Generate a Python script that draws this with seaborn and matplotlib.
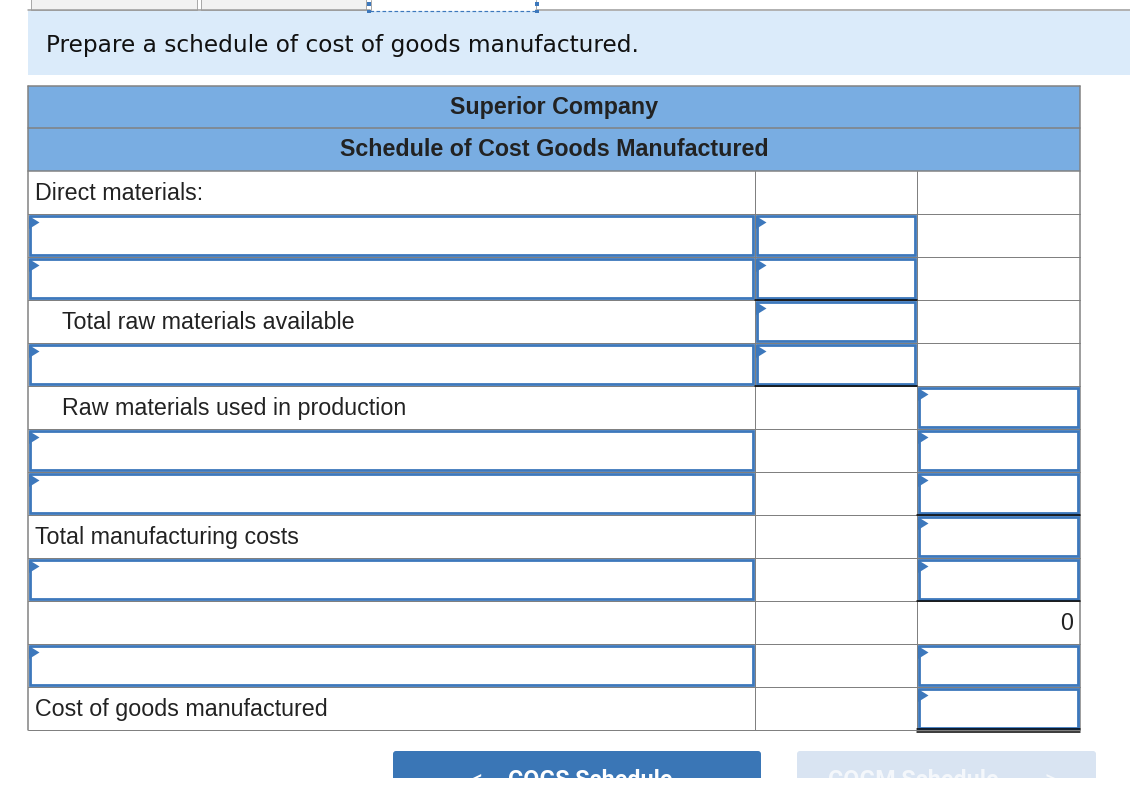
import matplotlib
matplotlib.use("Agg")
import matplotlib.pyplot as plt
from matplotlib.patches import Rectangle, Polygon, FancyBboxPatch
import seaborn as sns

sns.set_theme(style="white")
plt.rcParams["font.family"] = ["Liberation Sans", "DejaVu Sans"]

# ---------------- data ----------------
instruction = "Prepare a schedule of cost of goods manufactured."
header_lines = ["Superior Company", "Schedule of Cost Goods Manufactured"]
row_labels = ["Direct materials:", "", "", "Total raw materials available", "",
              "Raw materials used in production", "", "", "Total manufacturing costs",
              "", "", "", "Cost of goods manufactured"]
label_indent = [0, 0, 0, 1, 0, 1, 0, 0, 0, 0, 0, 0, 0]
col1_input = [0, 1, 1, 0, 1, 0, 1, 1, 0, 1, 0, 1, 0]
col2_input = [0, 1, 1, 1, 1, 0, 0, 0, 0, 0, 0, 0, 0]
col3_input = [0, 0, 0, 0, 0, 1, 1, 1, 1, 1, 0, 1, 1]
col3_values = ["", "", "", "", "", "", "", "", "", "", "0", "", ""]
col2_underline = [0, 0, 1, 0, 1, 0, 0, 0, 0, 0, 0, 0, 0]
col3_underline = [0, 0, 0, 0, 0, 0, 0, 1, 0, 1, 0, 0, 2]
buttons = ["COGS Schedule", "COGM Schedule"]

# ---------------- styles ----------------
W, H = 1130, 788
PT = 0.72  # points per pixel at dpi 100
GRID = "#808080"
BLUE = "#3d78bc"
HEAD = "#79ade2"
BANNER = "#dbebfa"
TXT = "#222222"
FS = 23.3 * PT

fig = plt.figure(figsize=(W / 100, H / 100), dpi=100)
ax = fig.add_axes([0, 0, 1, 1])
ax.set_xlim(0, W)
ax.set_ylim(H, 0)
ax.axis("off")

# ---- top tabs ----
for x0, x1 in [(31, 197), (201, 366)]:
    ax.add_patch(Rectangle((x0, -2), x1 - x0, 11.5, facecolor="#f2f2f2",
                           edgecolor="#aaaaaa", lw=1 * PT))
ax.plot([28, 370], [9.5, 9.5], color="#999999", lw=1.5 * PT)
ax.plot([536, W], [9.5, 9.5], color="#999999", lw=1.5 * PT)
ax.plot([370.5, 370.5], [0, 10], color="#aaaaaa", lw=1 * PT)
ax.plot([535.5, 535.5], [0, 10], color="#aaaaaa", lw=1 * PT)
ax.plot([370, 536], [11, 11], color=BLUE, lw=1.2 * PT, ls=(0, (3, 2)))
for sx in (367, 535):
    for sy in (2, 9.5):
        ax.add_patch(Rectangle((sx, sy), 3.5, 3.5, facecolor=BLUE, edgecolor="none", zorder=5))

# ---- instruction banner ----
ax.add_patch(Rectangle((28, 10.5), W - 28, 64.5, facecolor=BANNER, edgecolor="none"))
ax.text(46, 52, instruction, fontsize=23.2 * PT, color="#111111",
        family=["DejaVu Sans"], va="baseline", ha="left")

# ---- table geometry ----
XL, X1, X2, XR = 28, 755, 917, 1080
HT = 86
HROW = [86, 128, 171]
RH = 43
n = len(row_labels)
tops = [171 + RH * i for i in range(n)]
bottom = tops[-1] + RH

# header
ax.add_patch(Rectangle((XL, HT), XR - XL, 171 - HT, facecolor=HEAD, edgecolor="none"))
for y in HROW:
    ax.plot([XL, XR], [y, y], color=GRID, lw=1.5 * PT)
for i, t in enumerate(header_lines):
    ax.text((XL + XR) / 2, HROW[i] + 28, t, fontsize=FS, fontweight="bold",
            color=TXT, ha="center", va="baseline")

# grid
for t in tops[1:] + [bottom]:
    ax.plot([XL, XR], [t, t], color=GRID, lw=1 * PT)
for x in (XL, XR):
    ax.plot([x, x], [HT, bottom], color=GRID, lw=1.5 * PT)
for x in (X1, X2):
    ax.plot([x, x], [171, bottom], color=GRID, lw=1 * PT)


def input_box(x0, x1, top):
    lw = 2.8
    ax.add_patch(Rectangle((x0 + 1 + lw / 2, top + 1 + lw / 2),
                           (x1 - x0) - 2 - lw, RH - 2 - lw,
                           facecolor="white", edgecolor=BLUE, lw=lw * PT, zorder=3))
    ax.add_patch(Polygon([(x0 + 1, top + 2), (x0 + 1, top + 15), (x0 + 11.5, top + 8.5)],
                         closed=True, facecolor=BLUE, edgecolor="none", zorder=4))


for i in range(n):
    top = tops[i]
    if col1_input[i]:
        input_box(XL, X1, top)
    if col2_input[i]:
        input_box(X1, X2, top)
    if col3_input[i]:
        input_box(X2, XR, top)
    if row_labels[i]:
        ax.text(62 if label_indent[i] else 35, top + 29, row_labels[i], fontsize=FS,
                color=TXT, ha="left", va="baseline")
    if col3_values[i]:
        ax.text(XR - 7, top + 29.5, col3_values[i], fontsize=FS, color=TXT,
                ha="right", va="baseline")
    if col2_underline[i]:
        ax.plot([X1, X2], [top + RH, top + RH], color="black", lw=1.5 * PT, zorder=5)
    if col3_underline[i] == 1:
        ax.plot([X2, XR], [top + RH, top + RH], color="black", lw=1.5 * PT, zorder=5)
    elif col3_underline[i] == 2:
        ax.plot([X2, XR], [top + RH - 1, top + RH - 1], color="black", lw=1.5 * PT, zorder=5)
        ax.plot([X2, XR], [top + RH + 2, top + RH + 2], color="black", lw=1.5 * PT, zorder=5)

# ---- buttons (cut off at the bottom, as in the reference) ----
clip = Rectangle((0, 0), W, 778, transform=ax.transData, facecolor="none", edgecolor="none")
ax.add_patch(clip)
btn_geo = [(393, 761, "#3a76b6", "white", 508, 470, "<"),
           (797, 1096, "#d9e4f2", "#f4f7fb", 828, 1045, ">")]
for (x0, x1, fc, tc, tx, cx, ch), label in zip(btn_geo, buttons):
    b = FancyBboxPatch((x0, 751), x1 - x0, 40, boxstyle="round,pad=0,rounding_size=3",
                       facecolor=fc, edgecolor="none")
    ax.add_patch(b)
    b.set_clip_path(clip)
    t1 = ax.text(tx, 787, label, fontsize=FS, fontweight="bold", color=tc,
                 family=["Roboto", "DejaVu Sans"], ha="left", va="baseline")
    t1.set_clip_path(clip)
    t2 = ax.text(cx, 787, ch, fontsize=FS, color=tc, family=["Roboto", "DejaVu Sans"],
                 ha="left", va="baseline")
    t2.set_clip_path(clip)
ax.add_patch(Rectangle((0, 778), W, 12, facecolor="white", edgecolor="none", zorder=10))

fig.savefig("out.png", dpi=100)
